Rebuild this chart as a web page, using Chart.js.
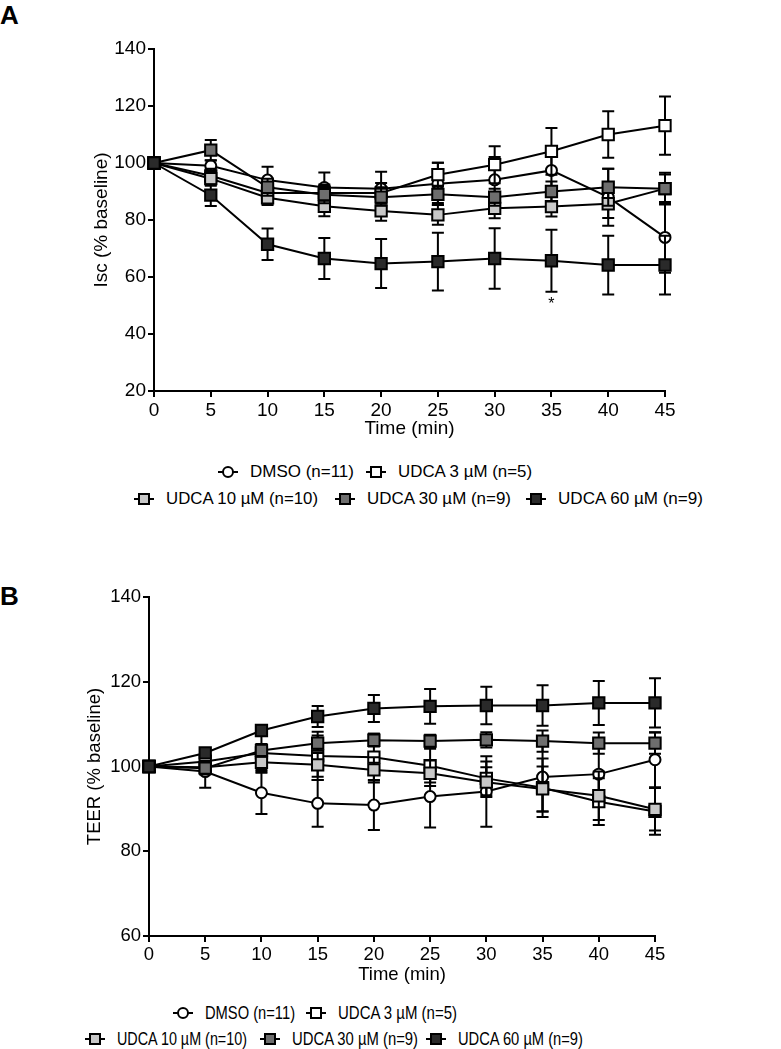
<!DOCTYPE html>
<html lang="en">
<head>
<meta charset="UTF-8">
<title>Isc and TEER after UDCA</title>
<script src="https://cdn.jsdelivr.net/npm/chart.js"></script>
<style>
    body {
        margin: 0;
        background: #fff;
        font-family: 'Liberation Sans', Arial, sans-serif;
        color: #000;
    }
    #page {
        position: relative;
        width: 781px;
        height: 1049px;
        overflow: hidden;
    }
    .panel {
        position: absolute;
        left: 0;
    }
    .letter {
        position: absolute;
        left: 0;
        font-weight: bold;
        font-size: 26px;
        line-height: 26px;
    }
    .item {
        position: absolute;
        height: 20px;
        display: flex;
        align-items: center;
        white-space: nowrap;
    }
    .mk {
        position: relative;
        width: 20px;
        height: 20px;
        flex: none;
        margin-right: 12px;
    }
    .mk::before {
        content: '';
        position: absolute;
        left: 0;
        right: 0;
        top: 9px;
        height: 2px;
        background: #000;
    }
    .mk i {
        position: absolute;
        left: 4px;
        top: 4px;
        width: 8px;
        height: 8px;
        border: 2px solid #000;
    }
    .mk i.round { border-radius: 50%; }
    .tx { display: inline-block; transform-origin: left center; }
</style>
</head>
<body>
<div id="page">
    <div class="letter" style="top:2px">A</div>
    <div class="panel" style="top:0"><canvas id="iscChart" width="781" height="440"></canvas></div>
    <div class="letter" style="top:583px">B</div>
    <div class="panel" style="top:560px"><canvas id="teerChart" width="781" height="430"></canvas></div>
</div>

<script>
    // time points (min)
    var times = [0, 5, 10, 15, 20, 25, 30, 35, 40, 45];

    var seriesLabels = ['DMSO (n=11)', 'UDCA 3 \u00b5M (n=5)', 'UDCA 10 \u00b5M (n=10)', 'UDCA 30 \u00b5M (n=9)', 'UDCA 60 \u00b5M (n=9)'];

    // panel A - Isc (% baseline), mean and SEM
    var iscDMSO = [100, 99.0, 94.0, 91.4, 91.0, 92.7, 94.1, 97.4, 88.0, 73.9];
    var iscDMSOErr = [0, 2.0, 4.7, 5.3, 5.9, 7.4, 8.0, 8.5, 10.0, 12.4];
    var iscU3 = [100, 95.5, 89.5, 89.5, 89.5, 95.9, 99.4, 104.1, 110.0, 113.1];
    var iscU3Err = [0, 2.5, 3.0, 3.0, 3.5, 4.2, 6.5, 8.2, 8.2, 10.2];
    var iscU10 = [100, 94.5, 87.8, 84.8, 83.2, 81.8, 84.1, 84.7, 85.7, 91.0];
    var iscU10Err = [0, 2.5, 2.5, 3.5, 3.5, 3.5, 3.5, 3.5, 5.0, 5.0];
    var iscU30 = [100, 104.5, 91.5, 88.9, 88.0, 89.0, 88.0, 90.0, 91.5, 91.0];
    var iscU30Err = [0, 3.6, 3.0, 3.0, 3.0, 3.0, 3.0, 3.5, 6.5, 5.6];
    var iscU60 = [100, 88.7, 71.5, 66.5, 64.7, 65.4, 66.5, 65.7, 64.2, 64.2];
    var iscU60Err = [0, 3.8, 5.5, 7.2, 8.6, 10.1, 10.6, 10.9, 10.3, 10.3];
    var iscStar = {x: 35, y: 51.3};

    // panel B - TEER (% baseline), mean and SEM
    var teerDMSO = [100, 98.8, 93.8, 91.3, 90.9, 92.9, 94.1, 97.5, 98.2, 101.6];
    var teerDMSOErr = [0, 3.8, 5.0, 5.5, 5.9, 7.3, 8.3, 8.1, 6.5, 6.5];
    var teerU3 = [100, 101.2, 103.2, 102.5, 102.2, 100.2, 97.2, 95.0, 91.7, 89.4];
    var teerU3Err = [0, 1.5, 4.0, 5.7, 5.5, 4.0, 4.0, 6.9, 5.5, 5.5];
    var teerU10 = [100, 99.8, 101.0, 100.4, 99.2, 98.4, 96.3, 94.7, 93.1, 89.9];
    var teerU10Err = [0, 1.5, 2.5, 2.8, 3.0, 3.0, 3.5, 5.3, 5.7, 5.0];
    var teerU30 = [100, 99.6, 103.8, 105.5, 106.2, 106.0, 106.3, 106.0, 105.5, 105.5];
    var teerU30Err = [0, 1.5, 1.5, 1.8, 1.5, 1.5, 1.8, 2.5, 2.5, 2.5];
    var teerU60 = [100, 103.2, 108.5, 111.8, 113.7, 114.2, 114.4, 114.4, 115.0, 115.0];
    var teerU60Err = [0, 1.0, 1.2, 2.5, 3.2, 4.1, 4.4, 4.8, 5.2, 5.8];

    // marker look per series
    var fills = ['#ffffff', '#ffffff', '#c8c8c8', '#6e6e6e', '#2a2a2a'];
    var shapes = ['circle', 'rect', 'rect', 'rect', 'rect'];

    var font = "'Liberation Sans', Arial, sans-serif";

    function makeDatasets(values, errors) {
        return values.map(function (vals, i) {
            return {
                label: seriesLabels[i],
                data: times.map(function (t, j) { return {x: t, y: vals[j]}; }),
                errors: errors[i],
                borderColor: '#000',
                borderWidth: 2,
                pointStyle: shapes[i],
                pointRadius: shapes[i] === 'circle' ? 5.5 : 8,
                pointBackgroundColor: fills[i],
                pointBorderColor: '#000',
                pointBorderWidth: 2,
                tension: 0,
                clip: false,
                order: 4 - i
            };
        });
    }

    // error bars drawn just before each dataset, so its markers sit on top
    var errorBars = {
        id: 'errorBars',
        beforeDatasetDraw: function (chart, args) {
            var ds = chart.data.datasets[args.index];
            var ctx = chart.ctx;
            var xs = chart.scales.x, ys = chart.scales.y;
            ctx.save();
            ctx.strokeStyle = '#000';
            ctx.lineWidth = 2;
            ds.data.forEach(function (p, j) {
                var e = ds.errors[j];
                if (!e) return;
                var x = xs.getPixelForValue(p.x);
                var y1 = ys.getPixelForValue(p.y + e);
                var y2 = ys.getPixelForValue(p.y - e);
                ctx.beginPath();
                ctx.moveTo(x, y1); ctx.lineTo(x, y2);
                ctx.moveTo(x - 6, y1); ctx.lineTo(x + 6, y1);
                ctx.moveTo(x - 6, y2); ctx.lineTo(x + 6, y2);
                ctx.stroke();
            });
            ctx.restore();
        },
        afterDatasetsDraw: function (chart) {
            var star = chart.options.plugins.errorBars.star;
            if (!star) return;
            var ctx = chart.ctx;
            ctx.save();
            ctx.fillStyle = '#000';
            ctx.font = '16px ' + font;
            ctx.textAlign = 'center';
            ctx.textBaseline = 'middle';
            ctx.fillText('*', chart.scales.x.getPixelForValue(star.x), chart.scales.y.getPixelForValue(star.y) + 3);
            ctx.restore();
        }
    };

    function makeChart(id, datasets, opts) {
        var f = {family: font, size: opts.fontSize};
        return new Chart(document.getElementById(id).getContext('2d'), {
            type: 'line',
            data: {datasets: datasets},
            options: {
                responsive: false,
                animation: false,
                devicePixelRatio: 1,
                layout: {padding: opts.padding},
                plugins: {
                    legend: {display: false},
                    tooltip: {enabled: false},
                    errorBars: {star: opts.star}
                },
                scales: {
                    x: {
                        type: 'linear',
                        min: 0, max: 45,
                        afterFit: function (s) { s.height = opts.xHeight; },
                        ticks: {stepSize: 5, color: '#000', font: f, padding: 2},
                        grid: {drawOnChartArea: false, drawTicks: true, tickLength: 6, color: '#000', lineWidth: 2},
                        border: {color: '#000', width: 2},
                        title: {display: true, text: 'Time (min)', color: '#000', font: f, padding: {top: 0, bottom: opts.xTitlePad}}
                    },
                    y: {
                        min: opts.yMin, max: 140,
                        afterFit: function (s) { s.width = opts.yWidth; },
                        ticks: {stepSize: 20, color: '#000', font: f, padding: 2},
                        grid: {drawOnChartArea: false, drawTicks: true, tickLength: 6, color: '#000', lineWidth: 2},
                        border: {color: '#000', width: 2},
                        title: {display: true, text: opts.yTitle, color: '#000', font: f, padding: {top: opts.yTitlePad, bottom: 0}}
                    }
                }
            },
            plugins: [errorBars]
        });
    }

    makeChart('iscChart',
        makeDatasets([iscDMSO, iscU3, iscU10, iscU30, iscU60], [iscDMSOErr, iscU3Err, iscU10Err, iscU30Err, iscU60Err]),
        {padding: {left: 0, right: 116, top: 49, bottom: 0}, xHeight: 49, xTitlePad: 0, yWidth: 154, yMin: 20,
         fontSize: 19, yTitle: 'Isc (% baseline)', yTitlePad: 90, star: iscStar});

    makeChart('teerChart',
        makeDatasets([teerDMSO, teerU3, teerU10, teerU30, teerU60], [teerDMSOErr, teerU3Err, teerU10Err, teerU30Err, teerU60Err]),
        {padding: {left: 0, right: 126, top: 37, bottom: 0}, xHeight: 54, xTitlePad: 4, yWidth: 149, yMin: 60,
         fontSize: 18.5, yTitle: 'TEER (% baseline)', yTitlePad: 84, star: null});

    // GraphPad style legends below each panel: [row, text left, text width]
    var legendA = {rows: [472, 499], size: 17,
        items: [[0, 250, 104], [0, 398, 134], [1, 166, 152], [1, 367, 144], [1, 558, 145]]};
    var legendB = {rows: [1013, 1039], size: 18,
        items: [[0, 205, 90], [0, 338, 119], [1, 117, 130], [1, 292, 126], [1, 458, 125]]};

    function buildLegend(cfg) {
        var page = document.getElementById('page');
        cfg.items.forEach(function (it, i) {
            var div = document.createElement('div');
            div.className = 'item';
            div.style.left = (it[1] - 32) + 'px';
            div.style.top = (cfg.rows[it[0]] - 10) + 'px';
            div.style.fontSize = cfg.size + 'px';
            div.innerHTML = '<span class="mk"><i class="' + (shapes[i] === 'circle' ? 'round' : '') +
                '" style="background:' + fills[i] + '"></i></span><span class="tx">' + seriesLabels[i] + '</span>';
            page.appendChild(div);
            // squeeze or stretch the label to the width it has in the figure
            var tx = div.querySelector('.tx');
            var w = tx.getBoundingClientRect().width;
            if (w > 0) tx.style.transform = 'scaleX(' + (it[2] / w).toFixed(3) + ')';
        });
    }
    buildLegend(legendA);
    buildLegend(legendB);
</script>
</body>
</html>
